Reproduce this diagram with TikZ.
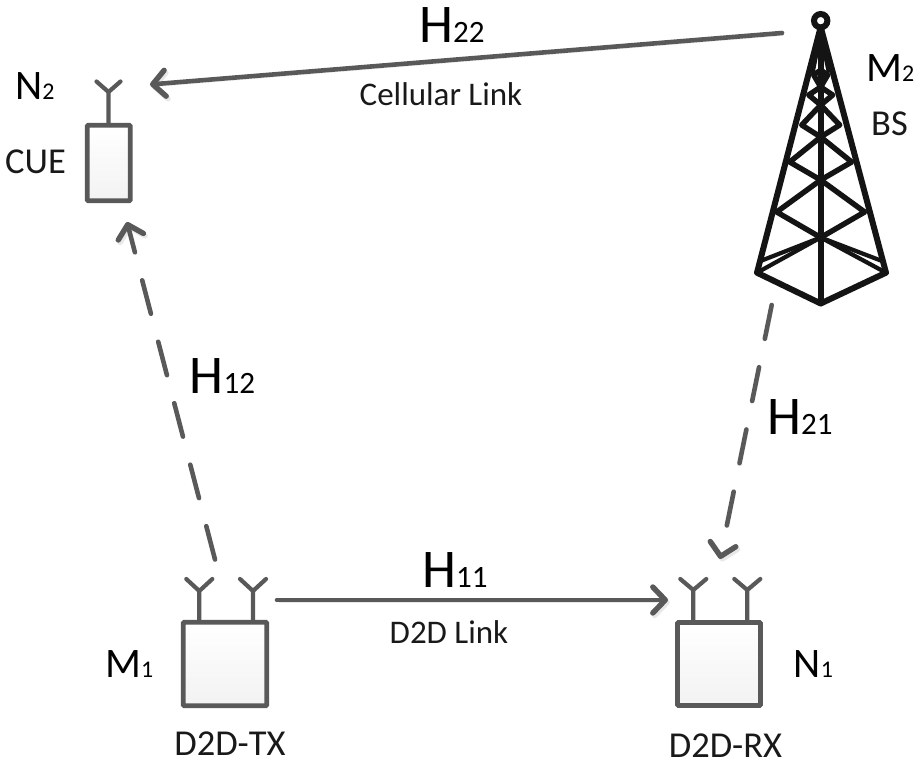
\documentclass[tikz,border=0pt]{standalone}
\usepackage{fontspec}
\setmainfont{Carlito}
\usetikzlibrary{arrows.meta,calc}
\definecolor{ink}{HTML}{595959}
\definecolor{tower}{HTML}{141414}
\tikzset{
  x=1pt,y=-1pt,
  unitbox/.style={draw=ink,line width=4.8pt,rounded corners=1pt,top color=white,bottom color=black!5,inner sep=0pt,rectangle},
  antenna/.style={draw=ink,line width=4.2pt,line cap=round,line join=round},
  linkbase/.style={draw=ink,line width=4.6pt,line cap=round,-{Straight Barb[length=12.5pt,width=26pt,line width=5.4pt,round]}},
  linkline/.style={linkbase,preaction={draw=black!9,transform canvas={shift={(1.8pt,-2.5pt)}}}},
  dashedlink/.style={linkbase,dash pattern=on 34.5pt off 29pt,
    preaction={draw=black!9,dash pattern=on 34.5pt off 29pt,transform canvas={shift={(1.8pt,-2.5pt)}}}},
  big/.style={font=\fontsize{54.5}{54}\selectfont,inner sep=0pt},
  mid/.style={font=\fontsize{42}{42}\selectfont,inner sep=0pt},
  small/.style={font=\fontsize{33}{33}\selectfont,inner sep=0pt,text=black!90},
  wide/.style={small,font=\fontsize{36.5}{36}\selectfont},
  tw/.style={draw=tower,line width=6pt,line cap=round,line join=round},
  brace/.style={tw,line width=5.4pt},
}
\newcommand{\lab}[2]{#1{\fontsize{0.57em}{1em}\selectfont #2}}
\begin{document}
\begin{tikzpicture}
\useasboundingbox (0,0) rectangle (922,763);
% boxes
\node[unitbox,minimum width=83.5pt,minimum height=83.5pt] (tx) at (225,664) {};
\node[unitbox,minimum width=83pt,minimum height=83pt] (rx) at (719,664) {};
\node[unitbox,minimum width=43pt,minimum height=75.5pt] (cue) at (108.8,163) {};
% antennas
\foreach \n/\x/\yb/\yf/\yt/\w in {a/199.3/622/591/579/13, b/253/622/591/579/13, c/693.3/622/590/579/13, d/747.3/622/590/579/13, e/108.5/124/92/81.5/12}{
  \draw[antenna] (\x,\yb) -- (\x,\yf) ($(\x,\yf)+(-\w,\yt-\yf)$) -- (\x,\yf) -- ($(\x,\yf)+(\w,\yt-\yf)$);
}
% tower
\coordinate (top) at (820.7,27);
\coordinate (bl) at (757,272.7);
\coordinate (br) at (886,272.7);
\coordinate (bf) at (820.7,303.5);
\coordinate (hub) at (820.7,237.5);
\draw[tw] (bl) -- (top) -- (br) -- (bf) -- cycle;
\draw[tw] (top) -- (bf);
\draw[brace,line width=3.6pt] (820.7,34) -- (813,72) (820.7,34) -- (828.4,72);
\draw[brace,line width=4.2pt] (bl) -- (hub) -- (br);
\draw[brace,line width=4.2pt] (760.5,261) -- (hub) -- (882,261);
\foreach \yl/\xd/\yu/\yd in {212/44/180/237.5, 162/31/137/180, 125/19/105/137, 95/12/87/105, 75/7/70/87}{
  \draw[brace] (820.7,\yu) -- (820.7-\xd,\yl) -- (820.7,\yd);
  \draw[brace] (820.7,\yu) -- (820.7+\xd,\yl) -- (820.7,\yd);
}
\fill[tower] (820.7,18) -- (812,56) -- (829.4,56) -- cycle;
\draw[draw=tower,line width=6pt,fill=white] (820.7,20.7) circle (6.7pt);
% link ends
\coordinate (h22s) at (782,33);
\coordinate (h22e) at (150,84.5);
\coordinate (h12s) at (215,559.5);
\coordinate (h12e) at (127,222);
\coordinate (h21s) at (771.7,305);
\coordinate (h21e) at (720,559);
\coordinate (h11s) at (277,600);
\coordinate (h11e) at (668,600);
\draw[linkline] (h22s) -- (h22e);
\draw[linkline] (h11s) -- (h11e);
\draw[dashedlink] (h12s) -- (h12e);
\draw[dashedlink] (h21s) -- (h21e);
% labels
\node[big,anchor=base west] (l22) at (419,42) {\lab{H}{22}};
\node[big,anchor=base west] (l12) at (189.5,393) {\lab{H}{12}};
\node[big,anchor=base west] (l21) at (767,434) {\lab{H}{21}};
\node[big,anchor=base west] (l11) at (422,587) {\lab{H}{11}};
\node[mid,anchor=base west] (n2) at (15,99) {\lab{N}{2}};
\node[mid,anchor=base west] (m2) at (866,81) {\lab{M}{2}};
\node[mid,anchor=base west] (m1) at (105,677) {\lab{M}{1}};
\node[mid,anchor=base west] (n1) at (793.5,677) {\lab{N}{1}};
\node[small,anchor=base west,font=\fontsize{36.5}{36}\selectfont] (ncue) at (5,173) {CUE};
\node[small,anchor=base west,font=\fontsize{36.5}{36}\selectfont] (nbs) at (871,135) {BS};
\node[small,anchor=base] (cl) at (441,105) {Cellular Link};
\node[small,anchor=base] (dl) at (449,643) {D2D Link};
\node[wide,anchor=base] (dt) at (230,755) {D2D-TX};
\node[wide,anchor=base] (dr) at (725.5,757.5) {D2D-RX};
\end{tikzpicture}
\end{document}
